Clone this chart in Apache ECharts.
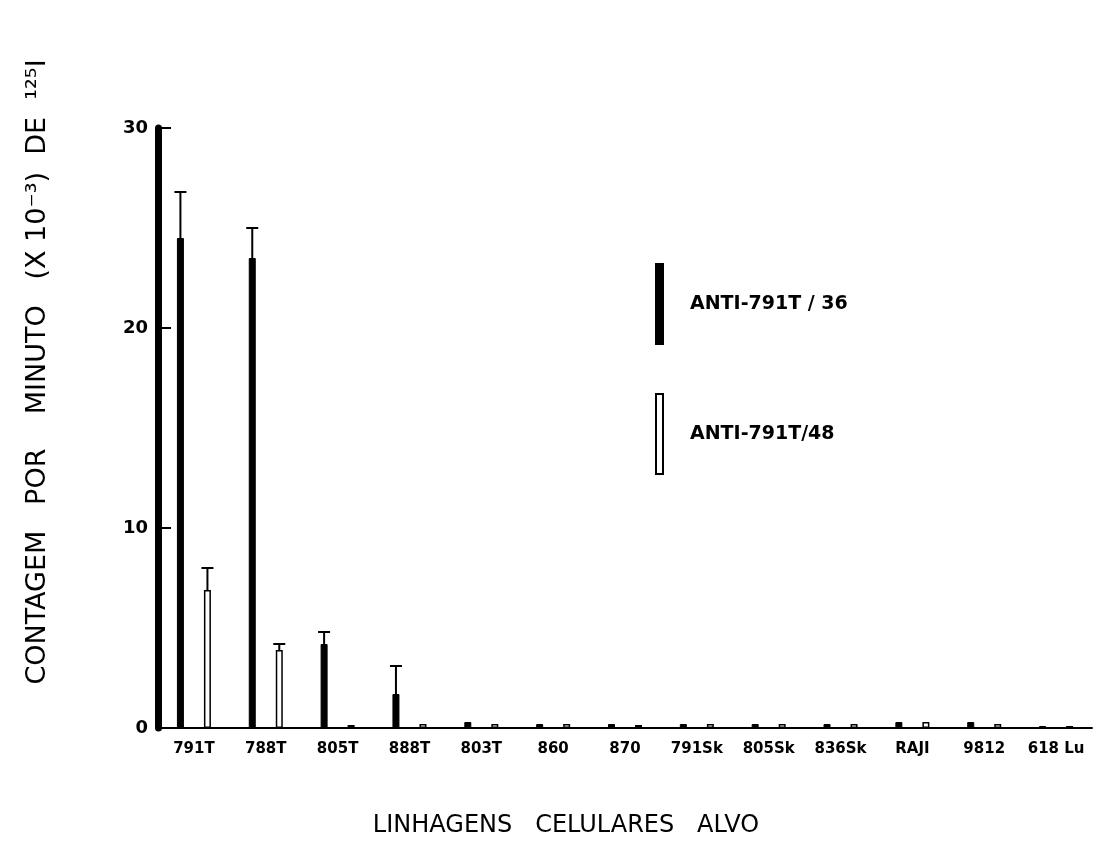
<!DOCTYPE html>
<html>
<head>
<meta charset="utf-8">
<script src="https://cdn.jsdelivr.net/npm/echarts@6/dist/echarts.min.js"></script>
<style>html,body{margin:0;padding:0;background:#fff}#c{width:1101px;height:860px}</style>
</head>
<body>
<div id="c"></div>
<script>
const categories = ['791T','788T','805T','888T','803T','860','870','791Sk','805Sk','836Sk','RAJI','9812','618 Lu'];
const yTicks = [0, 10, 20, 30];
const anti36 = [24.5, 23.5, 4.2, 1.7, 0.3, 0.2, 0.2, 0.2, 0.2, 0.2, 0.3, 0.3, 0.1];
const anti36ErrTop = [26.8, 25.0, 4.8, 3.1, null, null, null, null, null, null, null, null, null];
const anti48 = [6.9, 3.9, 0.15, 0.2, 0.2, 0.2, 0.15, 0.2, 0.2, 0.2, 0.3, 0.2, 0.1];
const anti48ErrTop = [8.0, 4.2, null, null, null, null, null, null, null, null, null, null, null];
const seriesNames = ['ANTI-791T / 36', 'ANTI-791T/48'];
const yTitle = 'CONTAGEM   POR    MINUTO   (X 10⁻³)  DE  ¹²⁵I';
const xTitle = 'LINHAGENS   CELULARES   ALVO';

const BAR_W = 7, BAR_GAP = 2.86;
const halfSpan = (BAR_W + BAR_W * BAR_GAP) / 2;

function errData(vals, tops) {
  const out = [];
  tops.forEach((t, i) => { if (t != null) out.push([i, t, vals[i]]); });
  return out;
}
function errRender(side) {
  return function (params, api) {
    const x = api.value(0);
    const top = api.coord([x, api.value(1)]);
    const base = api.coord([x, api.value(2)]);
    const cx = top[0] + side * halfSpan;
    return {
      type: 'group',
      children: [
        { type: 'line', shape: { x1: cx, y1: base[1], x2: cx, y2: top[1] }, style: { stroke: '#000', lineWidth: 2 } },
        { type: 'line', shape: { x1: cx - 6, y1: top[1], x2: cx + 6, y2: top[1] }, style: { stroke: '#000', lineWidth: 2 } }
      ]
    };
  };
}

const chart = echarts.init(document.getElementById('c'));
chart.setOption({
  backgroundColor: '#fff',
  animation: false,
  grid: { left: 158, right: 9, top: 128, bottom: 132 },
  graphic: [
    {
      type: 'text', x: 38, y: 372, rotation: Math.PI / 2,
      style: { text: yTitle, font: '27px "DejaVu Sans"', fill: '#000', align: 'center', verticalAlign: 'middle' }
    },
    {
      type: 'text', x: 566, y: 826,
      style: { text: xTitle, font: '24px "DejaVu Sans"', fill: '#000', align: 'center', verticalAlign: 'middle' }
    }
  ],
  legend: {
    orient: 'vertical',
    left: 650,
    top: 258,
    itemWidth: 7,
    itemHeight: 80,
    itemGap: 48,
    icon: 'rect',
    textStyle: { fontFamily: 'DejaVu Sans', fontWeight: 'bold', fontSize: 19, color: '#000', padding: [0, 0, 0, 22] },
    data: seriesNames
  },
  xAxis: {
    type: 'category',
    data: categories,
    boundaryGap: true,
    axisLine: { lineStyle: { color: '#000', width: 2 } },
    axisTick: { show: false },
    axisLabel: { interval: 0, fontFamily: 'DejaVu Sans', fontWeight: 'bold', fontSize: 15, color: '#000', margin: 14 }
  },
  yAxis: {
    type: 'value',
    min: 0,
    max: 30,
    interval: 10,
    splitLine: { show: false },
    axisLine: { show: true, lineStyle: { color: '#000', width: 7 } },
    axisTick: { show: true, inside: true, length: 13, lineStyle: { color: '#000', width: 2 } },
    axisLabel: {
      fontFamily: 'DejaVu Sans', fontWeight: 'bold', fontSize: 18, color: '#000', margin: 10,
      formatter: v => yTicks.includes(v) ? String(v) : ''
    }
  },
  series: [
    {
      name: seriesNames[0], type: 'bar', data: anti36, barWidth: BAR_W, barGap: (BAR_GAP * 100) + '%',
      itemStyle: { color: '#000', borderColor: '#000', borderWidth: 1 }
    },
    {
      name: seriesNames[1], type: 'bar', data: anti48, barWidth: BAR_W,
      itemStyle: { color: '#fff', borderColor: '#000', borderWidth: 1.5 }
    },
    { type: 'custom', data: errData(anti36, anti36ErrTop), renderItem: errRender(-1), z: 5, silent: true },
    { type: 'custom', data: errData(anti48, anti48ErrTop), renderItem: errRender(1), z: 5, silent: true }
  ]
});
</script>
</body>
</html>
